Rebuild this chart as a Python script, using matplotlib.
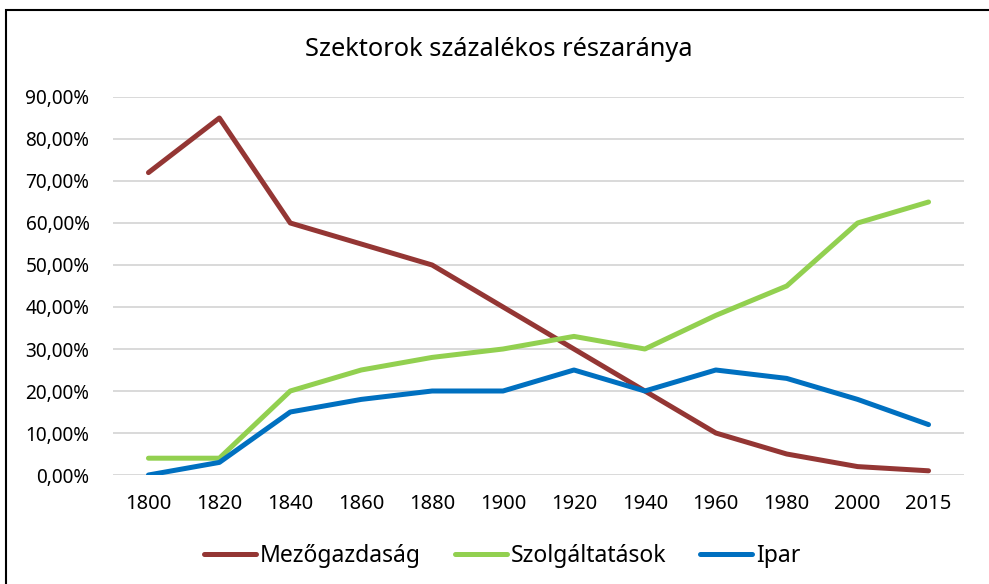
import matplotlib
matplotlib.use("Agg")
import matplotlib.pyplot as plt
from matplotlib.ticker import FuncFormatter
from matplotlib.patches import Rectangle

plt.rcParams["font.family"] = ["Noto Sans", "DejaVu Sans"]

# Szektorok részaránya évenként (%)
years = ["1800", "1820", "1840", "1860", "1880", "1900",
         "1920", "1940", "1960", "1980", "2000", "2015"]
mezogazdasag = [72, 85, 60, 55, 50, 40, 30, 20, 10, 5, 2, 1]
szolgaltatasok = [4, 4, 20, 25, 28, 30, 33, 30, 38, 45, 60, 65]
ipar = [0, 3, 15, 18, 20, 20, 25, 20, 25, 23, 18, 12]

series = [
    ("Mezőgazdaság", mezogazdasag, "#943634"),
    ("Szolgáltatások", szolgaltatasok, "#92D050"),
    ("Ipar", ipar, "#0070C0"),
]

W, H = 989, 584
fig = plt.figure(figsize=(W / 100, H / 100), dpi=100)
ax = fig.add_axes([113 / W, (H - 475) / H, (964 - 113) / W, (475 - 97) / H])

x = list(range(len(years)))
for name, vals, col in series:
    ax.plot(x, vals, color=col, linewidth=3.6, label=name,
            solid_joinstyle="round", solid_capstyle="round")

ax.set_xlim(-0.5, len(years) - 0.5)
ax.set_ylim(0, 90)
ax.set_yticks(range(0, 91, 10))
ax.yaxis.set_major_formatter(FuncFormatter(lambda v, p: f"{v:.2f}".replace(".", ",") + "%"))
ax.set_xticks(x)
ax.set_xticklabels(years)
ax.grid(axis="y", color="#d9d9d9", linewidth=1.4)
ax.set_axisbelow(True)
for s in ax.spines.values():
    s.set_visible(False)
ax.tick_params(length=0, colors="#000000")
ax.tick_params(axis="x", labelsize=14.5, pad=14)
ax.tick_params(axis="y", labelsize=13.7, pad=17)

fig.text(499 / W, 1 - 49 / H, "Szektorok százalékos részaránya",
         ha="center", va="center", fontsize=18.3)

fig.legend(loc="center", bbox_to_anchor=(502 / W, 1 - 556 / H), ncol=3,
           frameon=False, fontsize=16.5, handlelength=2.27, handletextpad=0.17,
           columnspacing=1.48)

# keret a diagram körül
fig.patches.append(Rectangle((6 / W, -0.1), 1.2, 1.1 - 10 / H,
                             transform=fig.transFigure, fill=False,
                             edgecolor="black", linewidth=1.5))

fig.savefig("out.png", dpi=100)
